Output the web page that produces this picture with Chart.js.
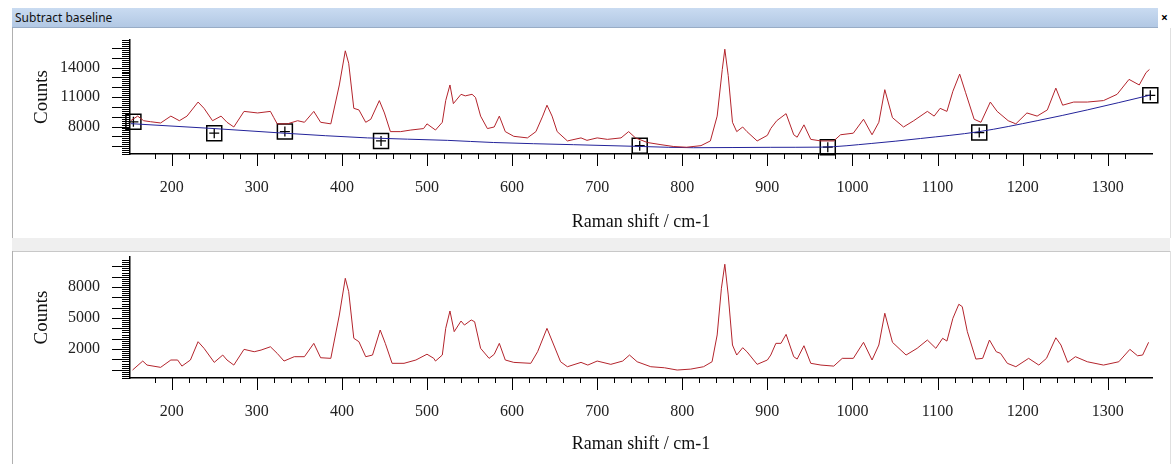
<!DOCTYPE html>
<html><head><meta charset="utf-8">
<script src="https://cdn.jsdelivr.net/npm/chart.js@4.4.1/dist/chart.umd.min.js"></script>
<style>
html,body{margin:0;padding:0;background:#fff;width:1176px;height:464px;overflow:hidden;}
body{position:relative;font-family:"Noto Sans",sans-serif;}
#bar{position:absolute;left:12px;top:8px;width:1146px;height:19px;background:linear-gradient(#c9dbf1,#b2c8e4);border-bottom:1px solid #98acc6;}
#bar span{position:absolute;left:3px;top:1px;font-size:12px;color:#111;}
#close{position:absolute;left:1161px;top:9px;font-size:12px;font-weight:bold;color:#000;}
#strip{position:absolute;left:12px;top:238px;width:1158px;height:13px;background:#efefef;}
.vline{position:absolute;width:1px;background:#b0b0b0;}
.hline{position:absolute;height:1px;background:#c8c8c8;}
canvas{position:absolute;left:12px;}
</style></head>
<body>
<div id="bar"><span>Subtract baseline</span></div>
<div id="close">×</div>
<div id="strip"></div>
<div class="vline" style="left:12px;top:28px;height:210px"></div>
<div class="vline" style="left:1170px;top:28px;height:210px;background:#e0e0e0"></div>
<div class="hline" style="left:12px;top:251px;width:1158px"></div>
<div class="vline" style="left:12px;top:251px;height:213px"></div>
<div class="vline" style="left:1170px;top:251px;height:213px;background:#e0e0e0"></div>
<canvas id="top" width="1158" height="210" style="top:28px"></canvas>
<canvas id="bot" width="1158" height="213" style="top:251px"></canvas>
<script>
// ---- data ----
const rawShift = [152,160,167,175,187,199,209,218,231,238,248,258,265,273,285,301,316,320,324,336,348,356,367,375,387,397,404,408,414,420,428,434,444,450,457,469,481,496,500,510,518,522,527,531,540,545,553,557,563,571,579,585,592,602,618,628,636,641,647,653,665,681,688,700,712,728,737,745,759,775,790,805,822,833,841,847,850,854,859,864,871,876,888,900,904,911,922,931,935,943,951,963,978,986,1001,1013,1023,1031,1038,1047,1060,1072,1088,1096,1103,1111,1118,1126,1133,1143,1151,1162,1170,1183,1192,1205,1217,1229,1239,1247,1260,1276,1295,1311,1325,1337,1345,1349];
const rawCounts = [8600,9060,8590,8490,8360,9060,8590,9060,10490,9850,8590,9060,8430,7950,9540,9380,9540,8900,8270,8270,8590,8430,9540,8430,8270,12230,15710,14440,9850,9690,8430,8740,10640,9380,7480,7480,7640,7790,8270,7640,8430,10640,12230,10330,11280,11120,11280,10960,9060,7790,7950,9060,7480,7000,6840,7480,9060,10170,9060,7480,6530,6840,6590,6840,6690,6840,7480,6840,6370,6150,5960,5890,6050,6530,9060,13810,15870,13180,8430,7480,7950,7480,6530,7100,7800,8590,9310,7160,6910,8170,6690,6530,6530,7160,7320,8740,7160,8430,11750,8900,7950,8590,9540,9060,9850,9540,11590,13340,11440,8740,8430,10490,9540,8590,8270,9380,9060,9690,11910,10170,10490,10490,10640,11280,12800,12230,13490,13810];

const baseShift = [152,250,332,430,524,578,672,754,813,904,963,1022,1080,1149,1217,1276,1350];
const baseCounts = [8290,7790,7320,6840,6590,6370,6150,5960,5840,5880,5900,6270,6780,7480,8590,9690,11200];

const anchorShift = [155,250,333,446,750,971,1149,1350];
const anchorCounts = [8480,7320,7480,6530,6050,5890,7380,11180];

const subShift = [154,166,171,187,199,207,212,222,231,238,250,260,265,273,285,297,305,316,324,332,344,356,367,375,387,397,404,408,414,420,428,436,445,451,459,473,487,500,508,510,518,522,527,532,540,544,552,556,563,573,579,585,592,602,622,630,641,649,657,665,681,689,700,716,730,738,747,763,779,794,810,825,835,841,846,850,854,859,864,871,876,888,900,904,910,916,922,931,935,943,951,963,978,988,1001,1013,1023,1031,1038,1047,1063,1076,1088,1098,1106,1111,1118,1125,1129,1135,1145,1153,1161,1169,1174,1182,1192,1207,1219,1228,1239,1245,1253,1262,1276,1295,1313,1326,1335,1341,1348];
const subCounts = [-30,840,450,230,940,940,350,940,2710,2070,710,1420,940,450,1970,1740,1900,2220,1580,840,1260,1260,2550,1160,1100,5290,8840,7550,3040,2710,1260,1420,3840,2550,620,620,940,1500,1100,840,1420,4000,5680,3680,4710,4320,4810,4640,2070,1100,1490,2550,940,710,620,1740,4000,2390,770,290,710,450,840,520,840,1420,770,290,190,-30,60,290,770,3360,7880,10200,7230,2390,1420,2130,1740,520,940,1420,2550,2550,3420,1260,1030,2320,620,450,350,1100,1100,2650,940,2390,5460,2650,1420,2070,2870,2070,3040,2770,4970,6330,6100,3680,1030,1100,2870,1740,1580,620,290,1100,450,1100,3090,2390,710,1260,770,450,770,1970,1350,1420,2650];

const xLabels = [200,300,400,500,600,700,800,900,1000,1100,1200,1300];
const topYLabels = [8000,11000,14000];
const botYLabels = [2000,5000,8000];

// ---- drawing ----
const pts = (xs, ys) => xs.map((x, i) => ({x, y: ys[i]}));
const RED = '#b3242c', BLUE = '#23239a';
const SERIF = '"Liberation Serif","Times New Roman",serif';

const tickMarks = {
  id: 'tickMarks',
  afterDraw(chart) {
    const ctx = chart.ctx, xs = chart.scales.x, ys = chart.scales.y;
    ctx.save();
    ctx.strokeStyle = '#000';
    ctx.lineWidth = 1;
    ctx.beginPath();
    xs.ticks.forEach(t => {
      if (t.value % 20 !== 0) return;
      const p = Math.round(xs.getPixelForValue(t.value)) + 0.5;
      const len = t.value % 100 === 0 ? 12 : 5;
      ctx.moveTo(p, xs.top); ctx.lineTo(p, xs.top + len);
    });
    ys.ticks.forEach(t => {
      if (t.value % 200 !== 0) return;
      const p = Math.round(ys.getPixelForValue(t.value)) + 0.5;
      const len = t.value % 1000 === 0 ? 18 : 8;
      ctx.moveTo(ys.right, p); ctx.lineTo(ys.right - len, p);
    });
    ctx.stroke();
    ctx.restore();
  }
};

function makeChart(id, datasets, yMin, yMax, yLabels, xHeight, pad, xTitlePad) {
  return new Chart(document.getElementById(id), {
    type: 'line',
    data: { datasets },
    options: {
      responsive: false, animation: false, devicePixelRatio: 1,
      layout: { padding: pad },
      plugins: { legend: { display: false }, tooltip: { enabled: false } },
      elements: { point: { radius: 0 }, line: { borderWidth: 1, tension: 0 } },
      scales: {
        x: {
          type: 'linear', min: 151, max: 1352,
          grid: { display: false, drawTicks: false },
          border: { display: true, color: '#000', width: 1.5 },
          ticks: { stepSize: 20, autoSkip: false, maxRotation: 0, padding: 24, color: '#222',
                   font: { family: SERIF, size: 16 },
                   callback: v => xLabels.includes(v) ? String(v) : '' },
          title: { display: true, text: 'Raman shift / cm-1', color: '#111',
                   font: { family: SERIF, size: 18 }, padding: { top: 0, bottom: xTitlePad } },
          afterFit: s => { s.height = xHeight; s.paddingLeft = 0; s.paddingRight = 0; }
        },
        y: {
          type: 'linear', min: yMin, max: yMax,
          grid: { display: false, drawTicks: false },
          border: { display: true, color: '#000', width: 1.5 },
          ticks: { stepSize: 200, autoSkip: false, padding: 30, color: '#222',
                   font: { family: SERIF, size: 16 },
                   callback: v => yLabels.includes(v) ? String(v) : '' },
          title: { display: true, text: 'Counts', color: '#111',
                   font: { family: SERIF, size: 19 }, padding: { top: 18.6, bottom: 0 } },
          afterFit: s => { s.width = 118; s.paddingTop = 0; s.paddingBottom = 0; }
        }
      }
    },
    plugins: [tickMarks]
  });
}

const anchors = pts(anchorShift, anchorCounts);
makeChart('top', [
  { data: pts(rawShift, rawCounts), borderColor: RED, parsing: false },
  { data: pts(baseShift, baseCounts), borderColor: BLUE, cubicInterpolationMode: 'monotone', parsing: false },
  { data: anchors, showLine: false, pointStyle: 'rect', pointRadius: 10.6, pointBorderColor: '#000',
    pointBackgroundColor: 'rgba(0,0,0,0)', pointBorderWidth: 1.5, clip: false, parsing: false },
  { data: anchors, showLine: false, pointStyle: 'cross', pointRadius: 5, pointBorderColor: '#000',
    pointBorderWidth: 1.3, clip: false, parsing: false }
], 5200, 16800, topYLabels, 84, { left: 0, right: 18, top: 4, bottom: 0 }, 5.2);

makeChart('bot', [
  { data: pts(subShift, subCounts), borderColor: RED, parsing: false }
], -800, 10900, botYLabels, 86, { left: 0, right: 18, top: 6, bottom: 0 }, 9.2);
</script>
</body></html>
